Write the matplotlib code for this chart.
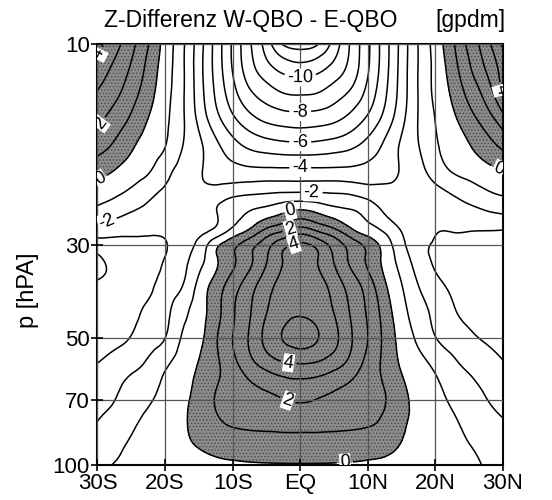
import numpy as np
import matplotlib
matplotlib.use('Agg')
import matplotlib.pyplot as plt
import matplotlib.tri as mtri
from matplotlib.ticker import NullLocator

plt.rcParams['font.family'] = ['Liberation Sans', 'DejaVu Sans']
plt.rcParams['hatch.color'] = '#4a4a4a'
plt.rcParams['hatch.linewidth'] = 0.6

# Gitter: Breite (Grad, Sued negativ) und Druckflaechen (hPa)
lat = np.arange(-30, 30.1, 2.5)
pres = np.array([10, 11.5, 13, 15, 17.5, 20, 22.5, 25, 28, 30, 32, 37, 43, 50, 58, 68, 80, 90, 100])

# Z-Differenz W-QBO - E-QBO [gpdm], eine Zeile je Druckflaeche, 30S ... 30N
z_p010 = [4.3, 3.4, 2.3, 1.05, -0.35, -1.75, -3.5, -5.35, -7.15, -8.85, -10.45, -12.1, -12.4,
          -12.1, -10.6, -8.85, -7.2, -5.45, -3.65, -1.95, -0.6, 0.8, 2.3, 3.6, 5.2]
z_p011 = [3.6, 2.76, 1.86, 0.7, -0.5, -1.78, -3.57, -5.33, -7.05, -8.56, -9.58, -10.25, -10.5,
          -10.25, -9.6, -8.6, -7.1, -5.4, -3.6, -1.95, -0.73, 0.5, 1.84, 3.05, 4.4]
z_p013 = [2.95, 2.29, 1.46, 0.43, -0.62, -1.8, -3.5, -5.15, -6.65, -7.87, -8.55, -9.06, -9.17,
          -9.06, -8.55, -7.87, -6.7, -5.2, -3.55, -1.95, -0.78, 0.19, 1.33, 2.41, 4.1]
z_p015 = [2.26, 1.62, 0.86, 0.0, -0.78, -1.82, -3.26, -4.67, -5.83, -6.71, -7.27, -7.53, -7.62,
          -7.53, -7.27, -6.7, -5.85, -4.7, -3.3, -1.95, -0.97, -0.21, 0.64, 1.52, 2.67]
z_p017 = [1.38, 0.83, 0.14, -0.43, -0.98, -1.96, -2.79, -3.75, -4.58, -5.17, -5.46, -5.63, -5.69,
          -5.63, -5.46, -5.17, -4.6, -3.8, -2.85, -2.03, -1.14, -0.57, -0.06, 0.54, 1.2]
z_p020 = [0.4, -0.02, -0.46, -0.89, -1.66, -2.33, -2.89, -3.4, -3.65, -3.75, -3.77, -3.78, -3.78,
          -3.78, -3.77, -3.75, -3.65, -3.4, -2.9, -2.28, -1.58, -0.93, -0.62, -0.31, 0.0]
z_p022 = [-0.46, -0.79, -1.18, -1.69, -2.15, -2.4, -2.75, -2.64, -2.35, -2.2, -2.1, -2.02, -2.0,
          -2.02, -2.08, -2.2, -2.5, -2.7, -2.75, -2.5, -2.25, -1.9, -1.5, -1.1, -0.86]
z_p025 = [-1.25, -1.6, -1.98, -2.3, -2.6, -2.7, -2.55, -2.05, -1.4, -0.98, -0.6, -0.13, 0.19,
          -0.13, -0.6, -0.9, -1.35, -2.1, -2.55, -2.65, -2.6, -2.45, -2.3, -2.05, -1.83]
z_p028 = [-2.46, -2.75, -2.85, -2.92, -2.9, -2.65, -2.25, -1.6, -0.57, 0.33, 1.45, 2.15, 2.72,
          2.15, 1.45, 0.4, -0.37, -1.04, -2.0, -2.5, -2.95, -3.0, -3.02, -3.05, -3.1]
z_p030 = [-3.6, -3.35, -3.25, -3.15, -3.05, -2.5, -1.74, -0.27, 0.7, 1.6, 2.6, 3.7, 4.15,
          3.7, 2.6, 1.6, 0.7, -0.42, -1.74, -2.65, -3.1, -3.2, -3.25, -3.3, -3.35]
z_p032 = [-4.05, -3.75, -3.5, -3.3, -3.0, -2.36, -1.48, -0.1, 0.85, 1.8, 2.9, 4.05, 4.25,
          4.05, 2.9, 1.8, 0.85, -0.27, -1.5, -2.53, -3.15, -3.3, -3.4, -3.5, -3.55]
z_p037 = [-3.95, -3.8, -3.5, -3.2, -2.7, -2.1, -0.78, 0.35, 1.45, 2.5, 3.55, 4.3, 4.45,
          4.3, 3.55, 2.5, 1.45, 0.1, -1.0, -2.05, -2.8, -3.15, -3.35, -3.5, -3.6]
z_p043 = [-3.65, -3.5, -3.25, -2.87, -2.33, -1.35, -0.48, 0.61, 1.85, 2.9, 3.95, 4.65, 4.85,
          4.65, 3.95, 2.9, 1.85, 0.55, -0.67, -1.57, -2.28, -2.9, -3.2, -3.35, -3.45]
z_p050 = [-3.45, -3.25, -2.95, -2.48, -2.0, -0.92, -0.26, 0.88, 2.0, 3.1, 4.3, 5.05, 5.35,
          5.05, 4.3, 3.1, 2.0, 0.75, -0.36, -1.21, -1.97, -2.4, -2.82, -3.1, -3.3]
z_p058 = [-2.95, -2.6, -2.25, -1.79, -1.13, -0.53, 0.06, 0.79, 1.65, 2.6, 3.3, 3.75, 3.87,
          3.75, 3.3, 2.6, 1.65, 0.75, -0.1, -0.63, -1.2, -1.75, -2.22, -2.55, -2.9]
z_p068 = [-2.44, -2.1, -1.57, -1.2, -0.71, -0.25, 0.33, 1.03, 1.32, 1.6, 1.89, 2.15, 2.3,
          2.15, 1.89, 1.6, 1.32, 1.03, 0.27, -0.3, -0.72, -1.2, -1.53, -2.05, -2.37]
z_p080 = [-1.95, -1.57, -1.14, -0.78, -0.45, -0.12, 0.31, 0.8, 1.07, 1.15, 1.2, 1.25, 1.27,
          1.25, 1.2, 1.15, 1.07, 0.78, 0.16, -0.22, -0.53, -0.85, -1.2, -1.55, -1.9]
z_p090 = [-1.6, -1.2, -0.9, -0.66, -0.42, -0.18, 0.05, 0.28, 0.42, 0.5, 0.54, 0.56, 0.57,
          0.56, 0.54, 0.5, 0.42, 0.28, -0.05, -0.25, -0.5, -0.74, -0.98, -1.2, -1.55]
z_p100 = [-1.2, -0.97, -0.87, -0.75, -0.62, -0.5, -0.35, -0.2, -0.12, -0.08, -0.06, -0.05, -0.05,
          -0.05, -0.06, -0.08, -0.12, -0.2, -0.35, -0.5, -0.62, -0.75, -0.87, -1.05, -1.25]

lat_ticks = [-30, -20, -10, 0, 10, 20, 30]
lat_labels = ['30S', '20S', '10S', 'EQ', '10N', '20N', '30N']
p_ticks = [10, 30, 50, 70, 100]

dz = np.array([z_p010, z_p011, z_p013, z_p015, z_p017, z_p020, z_p022, z_p025, z_p028, z_p030,
               z_p032, z_p037, z_p043, z_p050, z_p058, z_p068, z_p080, z_p090, z_p100])

# Dreiecksgitter in (Breite, log p), glatt verfeinert
LAT, P = np.meshgrid(lat, pres)
ny, nx = dz.shape
idx = np.arange(ny * nx).reshape(ny, nx)
a = idx[:-1, :-1].ravel()
b = idx[:-1, 1:].ravel()
c = idx[1:, 1:].ravel()
d = idx[1:, :-1].ravel()
tris = np.concatenate([np.stack([a, b, c], 1), np.stack([a, c, d], 1)])
tri = mtri.Triangulation(LAT.ravel() / 60.0, np.log10(P.ravel()), tris)
refiner = mtri.UniformTriRefiner(tri)
tri_f, z_f = refiner.refine_field(dz.ravel(), subdiv=3)
tri_plot = mtri.Triangulation(tri_f.x * 60.0, 10 ** tri_f.y, tri_f.triangles)

fig = plt.figure(figsize=(5.52, 5.0), dpi=100)
ax = fig.add_axes([0.1766, 0.07, 0.7346, 0.842])
ax.set_yscale('log')
ax.set_xlim(-30, 30)
ax.set_ylim(100, 10)

# positive Werte grau gepunktet
ax.tricontourf(tri_plot, z_f, levels=[0, 50], colors=['#8c8c8c'], hatches=['.....'],
               zorder=1)
# ungerade Isolinien ohne, gerade mit Beschriftung
ax.tricontour(tri_plot, z_f, levels=np.arange(-11, 6, 2), colors='black',
              linewidths=1.1, linestyles='solid', zorder=2)
cs_even = ax.tricontour(tri_plot, z_f, levels=np.arange(-12, 6, 2), colors='black',
                        linewidths=1.1, linestyles='solid', zorder=2)

spots = [(0, 12.0), (0, 14.5), (0, 17.1), (0, 19.7), (1.7, 22.4), (-1.5, 24.8),
         (-1.5, 27.4), (-1.0, 29.6), (-1.8, 58.5), (-1.8, 70), (6.6, 98),
         (-29.2, 10.7), (-29.0, 15.7), (-29.3, 21.3), (-29.2, 25.2),
         (29.5, 12.9), (29.3, 19.9)]
labs = ax.clabel(cs_even, fmt='%d', fontsize=13, inline=True, inline_spacing=3,
                 manual=spots)
for t in labs:
    t.set_bbox(dict(facecolor='white', edgecolor='none', pad=0.4))

ax.set_xticks(lat_ticks)
ax.set_xticklabels(lat_labels)
ax.set_yticks(p_ticks)
ax.set_yticklabels([str(p) for p in p_ticks])
ax.yaxis.set_minor_locator(NullLocator())
ax.tick_params(direction='inout', length=9, width=1.2, labelsize=16, pad=1)
ax.grid(True, color='#555555', linewidth=0.9)
ax.set_axisbelow(False)
for s in ax.spines.values():
    s.set_linewidth(1.5)

fig.text(0.455, 0.958, 'Z-Differenz W-QBO - E-QBO', ha='center', va='center', fontsize=16.5)
fig.text(0.915, 0.958, '[gpdm]', ha='right', va='center', fontsize=16.5)
fig.text(0.051, 0.42, 'p [hPA]', rotation=90, ha='center', va='center', fontsize=17)

fig.savefig('out.png', dpi=100)
